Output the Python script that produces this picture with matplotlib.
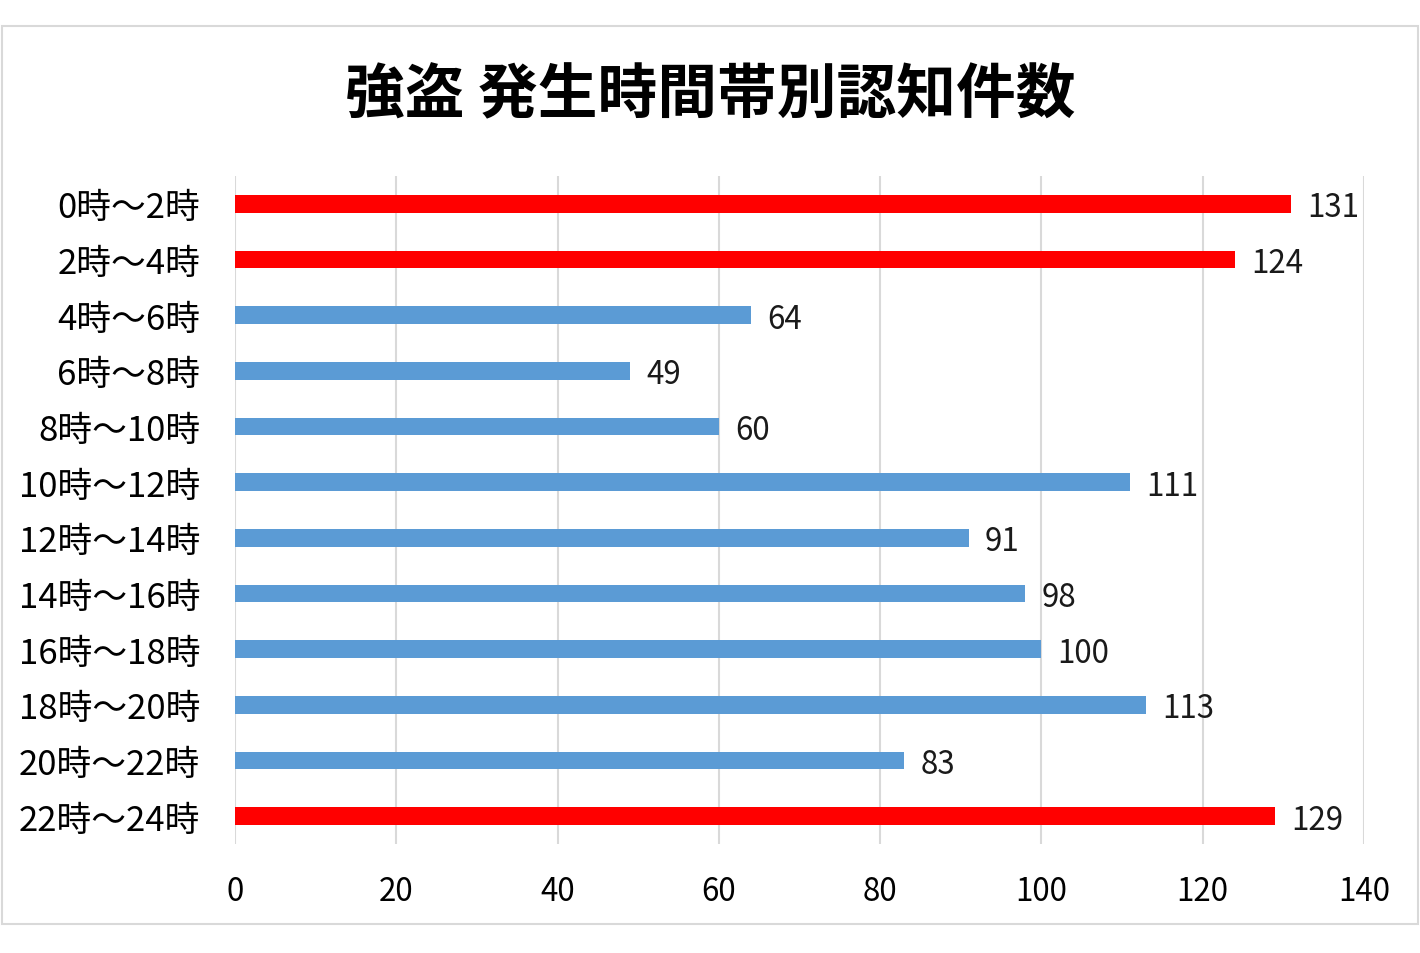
import matplotlib
matplotlib.use("Agg")
import matplotlib.pyplot as plt
from matplotlib.patches import Rectangle

plt.rcParams['font.family'] = ['Noto Sans CJK JP', 'DejaVu Sans']

# datos
franjas = ['0時～2時', '2時～4時', '4時～6時', '6時～8時', '8時～10時', '10時～12時',
           '12時～14時', '14時～16時', '16時～18時', '18時～20時', '20時～22時', '22時～24時']
casos = [131, 124, 64, 49, 60, 111, 91, 98, 100, 113, 83, 129]
destacados = [0, 1, 11]
titulo = '強盗 発生時間帯別認知件数'

ROJO = '#FF0000'
AZUL = '#5B9BD5'
colores = [ROJO if i in destacados else AZUL for i in range(len(casos))]

fig = plt.figure(figsize=(14.2, 9.54), dpi=100)
ax = fig.add_axes([235/1420, 1 - 845/954, (1364 - 235)/1420, (845 - 177)/954])

pos = list(range(len(casos)))
ax.barh(pos, casos, height=0.32, color=colores, zorder=3)
for p, v in zip(pos, casos):
    ax.text(v + 2.0, p + 0.06, str(v), va='center', ha='left', fontsize=22.5, color='#1a1a1a')

ax.set_xlim(0, 140)
ax.set_ylim(len(casos) - 0.5, -0.5)
ax.set_xticks(range(0, 141, 20))
ax.set_yticks(pos)
ax.set_yticklabels(franjas, fontsize=25)
ax.tick_params(axis='x', labelsize=22.5, length=0, pad=22)
ax.tick_params(axis='y', length=0, pad=25)
ax.grid(axis='x', color='#D9D9D9', linewidth=1.5, zorder=0)
for s in ax.spines.values():
    s.set_visible(False)

fig.text(710/1420, 1 - 96/954, titulo, ha='center', va='center', fontsize=43, fontweight='bold')

fig.add_artist(Rectangle((2/1420, 1 - 925/954), 1416/1420, 898/954, transform=fig.transFigure,
                         fill=False, edgecolor='#D9D9D9', linewidth=1.5))

plt.savefig('out.png', dpi=100)
